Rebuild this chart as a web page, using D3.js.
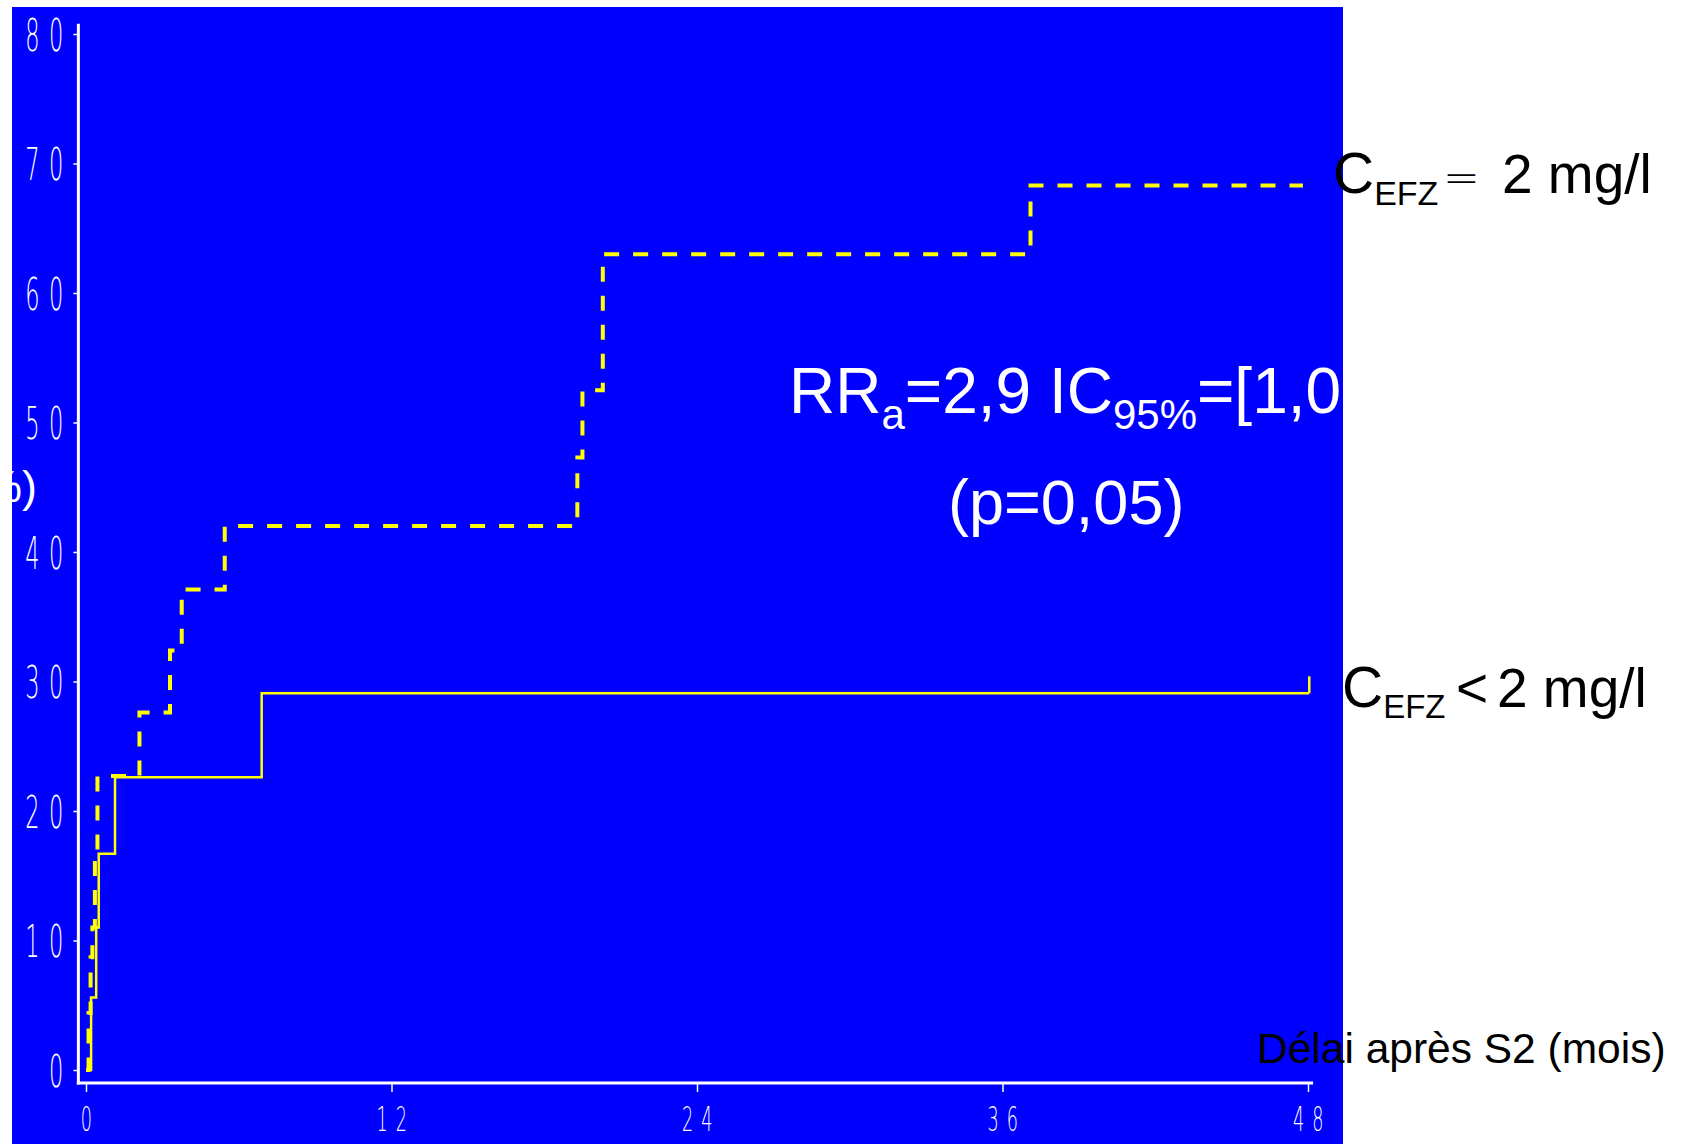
<!DOCTYPE html>
<html>
<head>
<meta charset="utf-8">
<script src="https://cdn.jsdelivr.net/npm/d3@7"></script>
<style>
  body { margin: 0; background: #fff; }
  svg { display: block; }
</style>
</head>
<body>
<svg id="chart"></svg>
<script>
// cumulative incidence (%) by month after S2
const dashedMonths = [0, 0.1, 0.18, 0.25, 0.35, 0.45, 2.1, 3.3, 3.76, 5.45, 19.3, 19.5, 20.3, 37.1, 47.8];
const dashedValues = [0, 4.4, 8.7, 11.0, 16.9, 22.7, 27.6, 32.4, 37.1, 42.0, 47.3, 52.5, 63.0, 68.3, 68.3];

const solidMonths = [0, 0.2, 0.4, 0.5, 1.14, 6.9, 48.05];
const solidValues = [0, 5.6, 11.0, 16.7, 22.6, 29.1, 29.1];
const solidCensor = [29.1, 30.4];

const xTicks = [0, 12, 24, 36, 48];
const yTicks = [0, 10, 20, 30, 40, 50, 60, 70, 80];

const width = 1689, height = 1144;

const svg = d3.select("#chart")
    .attr("width", width)
    .attr("height", height);

svg.append("rect").attr("width", width).attr("height", height).attr("fill", "#fff");
svg.append("rect")
    .attr("x", 12).attr("y", 7)
    .attr("width", 1331).attr("height", height - 7)
    .attr("fill", "#0000ff");

svg.append("clipPath").attr("id", "blueClip")
    .append("rect").attr("x", 12).attr("y", 7).attr("width", 1331).attr("height", height - 7);

const xScale = d3.scaleLinear().domain([0, 48]).range([86, 1308]);
const yScale = d3.scaleLinear().domain([0, 80]).range([1070, 34]);

// axes
const xAxis = svg.append("g")
    .attr("transform", `translate(0, ${yScale(-1)})`)
    .call(d3.axisBottom(xScale).tickValues(xTicks).tickSize(9).tickSizeOuter(0).tickFormat(d3.format("d")));
xAxis.select(".domain").remove();
xAxis.selectAll(".tick line").attr("stroke", "#fff").attr("stroke-width", 1.5);
xAxis.selectAll(".tick text")
    .attr("fill", "#fff")
    .attr("y", 24)
    .attr("dy", "0.71em")
    .attr("transform", "scale(0.52,1)")
    .style("font-family", "'DejaVu Sans', sans-serif")
    .style("font-weight", 200)
    .style("font-size", "34px")
    .style("letter-spacing", "15px")
    .attr("dx", "7px");

const yAxis = svg.append("g")
    .attr("transform", `translate(${xScale(-0.3)}, 0)`)
    .call(d3.axisLeft(yScale).tickValues(yTicks).tickSize(5).tickSizeOuter(0));
yAxis.select(".domain").remove();
yAxis.selectAll(".tick line").attr("stroke", "#fff").attr("stroke-width", 1.5);
yAxis.selectAll(".tick text")
    .attr("fill", "#fff")
    .attr("x", -11)
    .attr("dy", "0.36em")
    .attr("transform", "scale(0.5,1)")
    .style("font-family", "'DejaVu Sans', sans-serif")
    .style("font-weight", 200)
    .style("font-size", "45px")
    .style("letter-spacing", "19px");

svg.append("line")
    .attr("x1", xScale(-0.3)).attr("x2", xScale(-0.3))
    .attr("y1", yScale(80.8)).attr("y2", yScale(-1) + 1.5)
    .attr("stroke", "#fff").attr("stroke-width", 3);
svg.append("line")
    .attr("x1", xScale(-0.3) - 1.5).attr("x2", xScale(48.2))
    .attr("y1", yScale(-1)).attr("y2", yScale(-1))
    .attr("stroke", "#fff").attr("stroke-width", 3);

// curves
const stepLine = d3.line()
    .x(d => xScale(d[0]))
    .y(d => yScale(d[1]))
    .curve(d3.curveStepAfter);

svg.append("path")
    .attr("d", stepLine(d3.zip(solidMonths, solidValues)))
    .attr("fill", "none")
    .attr("stroke", "#ffff00")
    .attr("stroke-width", 2.5);

svg.append("line")
    .attr("x1", xScale(solidMonths[solidMonths.length - 1]))
    .attr("x2", xScale(solidMonths[solidMonths.length - 1]))
    .attr("y1", yScale(solidCensor[0]))
    .attr("y2", yScale(solidCensor[1]))
    .attr("stroke", "#ffff00")
    .attr("stroke-width", 2.5);

svg.append("path")
    .attr("d", stepLine(d3.zip(dashedMonths, dashedValues)))
    .attr("fill", "none")
    .attr("stroke", "#ffff00")
    .attr("stroke-width", 4)
    .attr("stroke-dasharray", "15,14");

// texts
svg.append("text")
    .attr("x", 37).attr("y", 502)
    .attr("text-anchor", "end")
    .attr("fill", "#fff")
    .style("font-family", "'Liberation Sans', Arial, sans-serif")
    .style("font-size", "45px")
    .text("(%)");

const ann = svg.append("g").attr("clip-path", "url(#blueClip)")
    .style("font-family", "'Liberation Sans', Arial, sans-serif")
    .attr("fill", "#fff");
const rr = ann.append("text").attr("x", 789).attr("y", 413).style("font-size", "64px");
rr.append("tspan").text("RR");
rr.append("tspan").attr("dy", 16).style("font-size", "42px").text("a");
rr.append("tspan").attr("dy", -16).text("=2,9 IC");
rr.append("tspan").attr("dy", 16).style("font-size", "42px").text("95%");
rr.append("tspan").attr("dy", -16).text("=[1,0");
ann.append("text").attr("x", 948).attr("y", 524).style("font-size", "63px").text("(p=0,05)");

const labels = svg.append("g")
    .style("font-family", "'Liberation Sans', Arial, sans-serif")
    .attr("fill", "#000");

const l1 = labels.append("text").attr("x", 1333).attr("y", 193).style("font-size", "57px");
l1.append("tspan").text("C");
l1.append("tspan").attr("dy", 12).style("font-size", "34px").text("EFZ");
l1.append("tspan").attr("x", 1443).attr("dy", -12).style("font-weight", 200).style("font-family", "'DejaVu Sans', sans-serif").style("font-size", "44px").text("=");
l1.append("tspan").attr("x", 1502).style("font-size", "55px").text("2 mg/l");

const l2 = labels.append("text").attr("x", 1342).attr("y", 707).style("font-size", "57px");
l2.append("tspan").text("C");
l2.append("tspan").attr("dy", 11).style("font-size", "33px").text("EFZ");
l2.append("tspan").attr("x", 1456).attr("dy", -11).style("font-size", "55px").text("<");
l2.append("tspan").attr("x", 1497).style("font-size", "55px").text("2 mg/l");

labels.append("text")
    .attr("x", 1257).attr("y", 1063)
    .style("font-size", "42.5px")
    .text("Délai après S2 (mois)");
</script>
</body>
</html>
